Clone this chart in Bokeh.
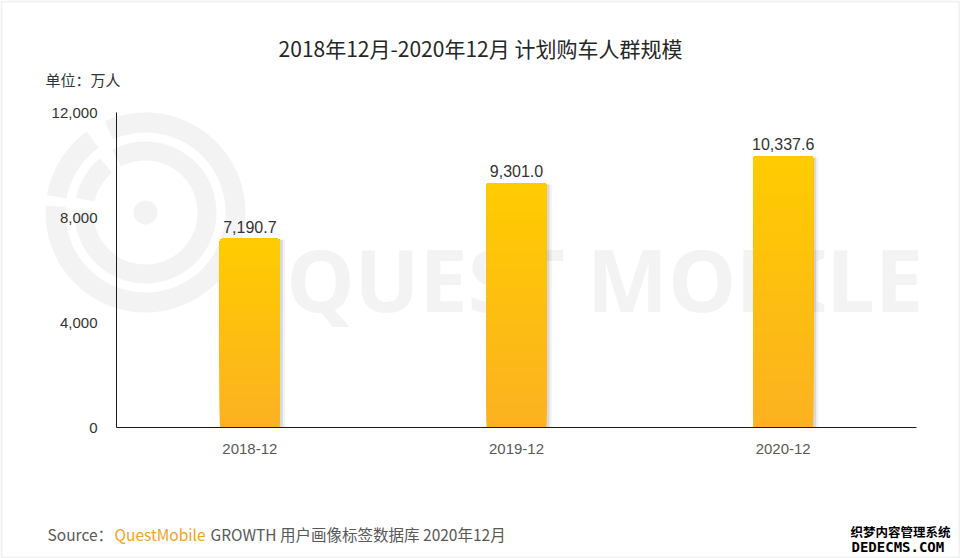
import numpy as np
from bokeh.plotting import figure
from bokeh.models import (ColumnDataSource, FixedTicker, NumeralTickFormatter, Range1d,
                          Label, LabelSet, PolyAnnotation, BoxAnnotation)
from bokeh.core.properties import value
from bokeh.embed import file_html
from bokeh.resources import INLINE

# ---- data ----
categories = ["2018-12", "2019-12", "2020-12"]
values = [7190.7, 9301.0, 10337.6]
y_ticks = [0, 4000, 8000, 12000]
y_max = 12000
title_text = "2018年12月-2020年12月 计划购车人群规模"
unit_text = "单位：万人"
source_prefix = "Source："
source_brand = "QuestMobile"
source_rest = "GROWTH 用户画像标签数据库 2020年12月"

W, H = 960, 558
CJK = "Noto Sans CJK SC"
NUM = "Liberation Sans"

# plot area placement (pixels on the canvas)
PX_L, PX_R, PX_T, PX_B = 116, 916, 112, 427
n = len(categories)
ux = (PX_R - PX_L) / n
uy = (PX_B - PX_T) / y_max
x_range = Range1d(-PX_L / ux, n + (W - PX_R) / ux)
y_range = Range1d(-(H - PX_B) / uy, y_max + PX_T / uy)

p = figure(width=W, height=H, x_range=x_range, y_range=y_range,
           output_backend="svg", toolbar_location=None, min_border=0)
p.min_border_left = p.min_border_right = p.min_border_top = p.min_border_bottom = 0
p.outline_line_color = None
p.grid.visible = False
p.background_fill_color = "white"
p.border_fill_color = "white"

xpos = [i + 0.5 for i in range(n)]

# ---- axes ----
p.yaxis.ticker = FixedTicker(ticks=y_ticks)
p.yaxis.formatter = NumeralTickFormatter(format="0,0")
p.yaxis.fixed_location = 0
p.yaxis.bounds = (0, y_max)
p.xaxis.ticker = FixedTicker(ticks=xpos)
p.xaxis.major_label_overrides = {x: c for x, c in zip(xpos, categories)}
p.xaxis.fixed_location = 0
p.xaxis.bounds = (0, n)
for ax in (p.xaxis, p.yaxis):
    ax.major_tick_line_color = None
    ax.minor_tick_line_color = None
    ax.major_tick_out = 0
    ax.major_tick_in = 0
    ax.axis_line_color = "#1a1a1a"
    ax.axis_line_width = 1
    ax.major_label_text_font = NUM
    ax.major_label_text_font_size = "15px"
p.yaxis.major_label_text_color = "#333333"
p.yaxis.major_label_standoff = 19
p.xaxis.major_label_text_color = "#595959"
p.xaxis.major_label_standoff = 16

# ---- watermark (logo + text) ----
WM = "#f3f3f3"
cx, cy = 145, H - 212


def ring(r0, r1, a0, a1, k=80):
    t = np.radians(np.linspace(a0, a1, k))
    xs = list(cx + r1 * np.cos(t)) + list(cx + r0 * np.cos(t[::-1]))
    ys = list(cy + r1 * np.sin(t)) + list(cy + r0 * np.sin(t[::-1]))
    return xs, ys


segments = [(80, 100, 126, 170), (80, 100, 176, 474),
            (52, 71, 130, 168), (52, 71, 178, 478)]
for r0, r1, a0, a1 in segments:
    xs, ys = ring(r0, r1, a0, a1)
    p.add_layout(PolyAnnotation(xs=xs, ys=ys, xs_units="screen", ys_units="screen",
                                fill_color=WM, fill_alpha=1, line_color=None, level="underlay"))
t = np.radians(np.linspace(0, 360, 60))
p.add_layout(PolyAnnotation(xs=list(cx + 12 * np.cos(t)), ys=list(cy + 12 * np.sin(t)),
                            xs_units="screen", ys_units="screen",
                            fill_color=WM, fill_alpha=1, line_color=None, level="underlay"))
p.add_layout(Label(x=286, y=H - 278, x_units="screen", y_units="screen", text="QUEST MOBILE",
                   text_font="Noto Sans", text_font_size="86px", text_font_style="bold",
                   text_color=WM, text_baseline="alphabetic", level="underlay"))

# ---- bar shadows ----
sh1 = ColumnDataSource(dict(x=[x + 0.02 for x in xpos], val=[v * 0.995 for v in values]))
sh2 = ColumnDataSource(dict(x=[x + 0.011 for x in xpos], val=[v * 0.995 for v in values]))
p.vbar(x="x", top="val", width=0.225, source=sh1, fill_color="#000000", fill_alpha=0.05,
       line_color=None)
p.vbar(x="x", top="val", width=0.225, source=sh2, fill_color="#000000", fill_alpha=0.10,
       line_color=None)

# ---- gradient bars ----
N = 40
top_c = np.array([255, 204, 0])
bot_c = np.array([252, 178, 32])
gx, gb, gt, gc = [], [], [], []
for k in range(N):
    f = k / N
    c = bot_c + (top_c - bot_c) * f
    col = "#%02x%02x%02x" % tuple(int(round(v)) for v in c)
    for x, v in zip(xpos, values):
        gx.append(x)
        gb.append(v * f)
        gt.append(v)
        gc.append(col)
gsrc = ColumnDataSource(dict(x=gx, bottom=gb, top=gt, color=gc))
try:
    p.vbar(x="x", bottom="bottom", top="top", width=0.225, source=gsrc,
           fill_color="color", line_color=None, border_radius=(3, 3, 0, 0))
except Exception:
    p.vbar(x="x", bottom="bottom", top="top", width=0.225, source=gsrc,
           fill_color="color", line_color=None)

# ---- value labels ----
lsrc = ColumnDataSource(dict(x=xpos, val=values, lbl=[f"{v:,.1f}" for v in values]))
p.add_layout(LabelSet(x="x", y="val", text="lbl", source=lsrc, y_offset=6,
                      text_align="center", text_baseline="alphabetic",
                      text_font=value(NUM), text_font_size=value("16px"),
                      text_color=value("#333333")))

# ---- texts ----
p.add_layout(Label(x=480, y=H - 47, x_units="screen", y_units="screen", text=title_text,
                   text_align="center", text_baseline="middle", text_font=CJK,
                   text_font_size="21px", text_color="#262626"))
p.add_layout(Label(x=45, y=H - 79, x_units="screen", y_units="screen", text=unit_text,
                   text_baseline="middle", text_font=CJK, text_font_size="15px",
                   text_color="#333333"))
p.add_layout(Label(x=47, y=H - 533, x_units="screen", y_units="screen", text=source_prefix,
                   text_baseline="middle", text_font=CJK, text_font_size="15.5px",
                   text_color="#595959"))
p.add_layout(Label(x=114, y=H - 533, x_units="screen", y_units="screen", text=source_brand,
                   text_baseline="middle", text_font=CJK, text_font_size="15.5px",
                   text_color="#f5a21c"))
p.add_layout(Label(x=210, y=H - 533, x_units="screen", y_units="screen", text=source_rest,
                   text_baseline="middle", text_font=CJK, text_font_size="15.5px",
                   text_color="#595959"))
p.add_layout(Label(x=850, y=H - 531, x_units="screen", y_units="screen", text="织梦内容管理系统",
                   text_baseline="middle", text_font=CJK, text_font_size="12.5px",
                   text_font_style="bold", text_color="#000000"))
p.add_layout(Label(x=851, y=H - 546, x_units="screen", y_units="screen", text="DEDECMS.COM",
                   text_baseline="middle", text_font="DejaVu Sans Mono", text_font_size="14px",
                   text_font_style="bold", text_color="#000000"))

# ---- outer frame of the picture ----
p.add_layout(BoxAnnotation(left=1, right=W - 1, bottom=1, top=H - 1,
                           left_units="screen", right_units="screen",
                           bottom_units="screen", top_units="screen",
                           fill_alpha=0, line_color="#cfcfcf", line_width=2, level="overlay"))

open("out.html", "w").write(file_html(p, INLINE))
